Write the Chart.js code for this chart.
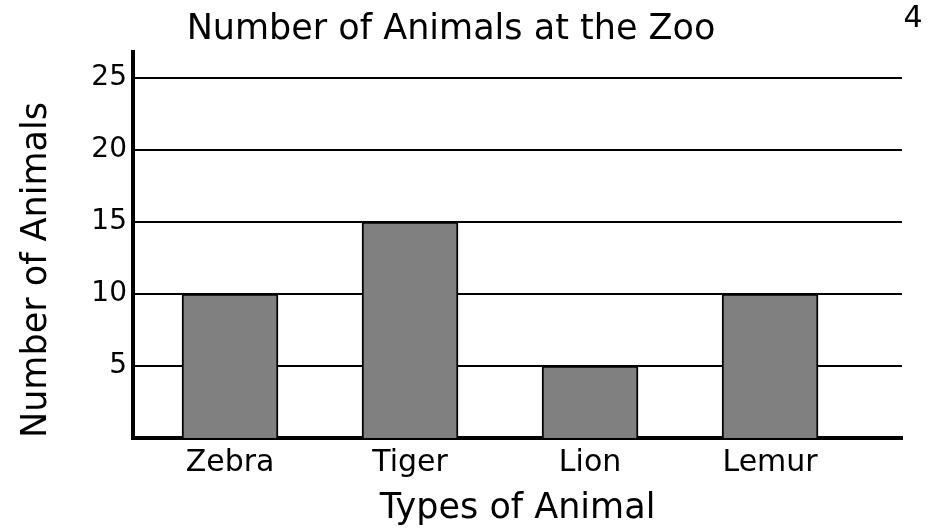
<!DOCTYPE html>
<html>
<head>
<meta charset="utf-8">
<script src="https://cdn.jsdelivr.net/npm/chart.js@4/dist/chart.umd.min.js"></script>
<style>
  html, body { margin: 0; padding: 0; background: #fff; }
  #wrap { width: 936px; height: 532px; }
</style>
</head>
<body>
<div id="wrap"><canvas id="c" width="936" height="532"></canvas></div>
<script>
const categories = ['Zebra', 'Tiger', 'Lion', 'Lemur'];
const animalCounts = [10, 15, 5, 10];
const yTickValues = [5, 10, 15, 20, 25];
const chartTitle = 'Number of Animals at the Zoo';
const xAxisTitle = 'Types of Animal';
const yAxisTitle = 'Number of Animals';
const pageNumber = '4';

const FONT = '"DejaVu Sans", sans-serif';

const pageNumberPlugin = {
  id: 'pageNumber',
  afterDraw(chart) {
    const ctx = chart.ctx;
    ctx.save();
    ctx.font = '30px ' + FONT;
    ctx.fillStyle = '#000';
    ctx.textAlign = 'center';
    ctx.textBaseline = 'middle';
    ctx.fillText(pageNumber, 913, 19);
    ctx.restore();
  }
};

new Chart(document.getElementById('c'), {
  type: 'bar',
  data: {
    datasets: [{
      data: categories.map((c, i) => ({ x: i, y: animalCounts[i] })),
      backgroundColor: '#808080',
      borderColor: '#000',
      borderWidth: 2,
      barThickness: 96
    }]
  },
  options: {
    responsive: false,
    animation: false,
    devicePixelRatio: 1,
    layout: { padding: { left: 0, right: 34, top: 0, bottom: 0 } },
    plugins: {
      legend: { display: false },
      tooltip: { enabled: false },
      title: {
        display: true,
        text: chartTitle,
        color: '#000',
        font: { family: FONT, size: 35, weight: 'normal', lineHeight: 1.2 },
        padding: { top: 9, bottom: 1 }
      }
    },
    scales: {
      x: {
        type: 'linear',
        offset: false,
        min: -0.539,
        max: 3.733,
        afterBuildTicks(scale) { scale.ticks = categories.map((c, i) => ({ value: i })); },
        afterFit(scale) { scale.height = 94; },
        ticks: {
          color: '#000',
          font: { family: FONT, size: 30 },
          padding: 7,
          autoSkip: false,
          maxRotation: 0,
          callback: (v) => categories[v]
        },
        grid: { display: false, drawTicks: false },
        border: { display: true, color: '#000', width: 4 },
        title: {
          display: true,
          text: xAxisTitle,
          color: '#000',
          font: { family: FONT, size: 35, lineHeight: 1.2 },
          padding: { top: 0, bottom: 2 }
        }
      },
      y: {
        min: 0,
        max: 26.8,
        afterBuildTicks(scale) { scale.ticks = yTickValues.map(v => ({ value: v })); },
        afterFit(scale) { scale.width = 133; },
        ticks: {
          color: '#000',
          font: { family: FONT, size: 28 },
          padding: 6
        },
        grid: { color: '#000', lineWidth: 2, drawTicks: false },
        border: { display: true, color: '#000', width: 4 },
        title: {
          display: true,
          text: yAxisTitle,
          align: 'start',
          color: '#000',
          font: { family: FONT, size: 35, lineHeight: 1.2 },
          padding: { top: 16, bottom: 0 }
        }
      }
    }
  },
  plugins: [pageNumberPlugin]
});
</script>
</body>
</html>
